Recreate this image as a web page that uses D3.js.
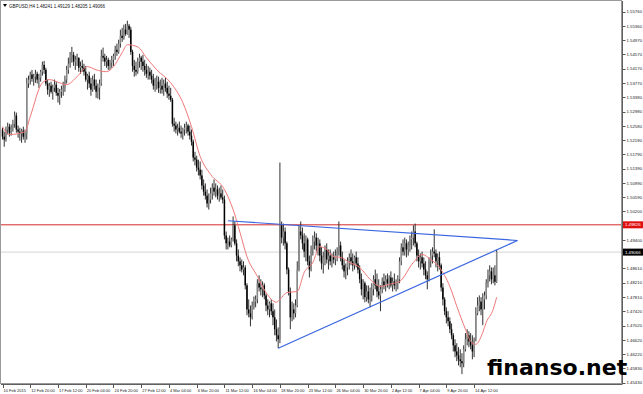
<!DOCTYPE html>
<html><head><meta charset="utf-8">
<script src="https://cdn.jsdelivr.net/npm/d3@7/dist/d3.min.js"></script>
<style>body{margin:0;background:#fff}svg{display:block}</style>
</head><body>
<svg id="c" width="643" height="394"></svg>
<script>
// ---- data (GBPUSD, H4) ----
const openP=[1.5248,1.5228,1.5220,1.5248,1.5256,1.5239,1.5253,1.5264,1.5287,1.5248,
1.5242,1.5237,1.5245,1.5228,1.5237,1.5376,1.5387,1.5401,1.5389,1.5395,
1.5403,1.5387,1.5392,1.5409,1.5428,1.5414,1.5376,1.5359,1.5370,1.5353,
1.5364,1.5373,1.5350,1.5342,1.5353,1.5359,1.5364,1.5387,1.5414,1.5431,
1.5448,1.5456,1.5437,1.5442,1.5448,1.5420,1.5425,1.5420,1.5409,1.5387,
1.5398,1.5376,1.5359,1.5387,1.5370,1.5353,1.5364,1.5376,1.5453,1.5448,
1.5437,1.5442,1.5425,1.5434,1.5442,1.5453,1.5470,1.5464,1.5487,1.5509,
1.5503,1.5526,1.5514,1.5537,1.5526,1.5464,1.5425,1.5414,1.5409,1.5437,
1.5448,1.5437,1.5425,1.5414,1.5403,1.5409,1.5398,1.5387,1.5370,1.5376,
1.5381,1.5364,1.5370,1.5359,1.5376,1.5364,1.5348,1.5342,1.5331,1.5264,
1.5259,1.5248,1.5253,1.5242,1.5237,1.5248,1.5253,1.5259,1.5242,1.5231,
1.5214,1.5170,1.5164,1.5142,1.5136,1.5120,1.5092,1.5075,1.5064,1.5042,
1.5053,1.5070,1.5086,1.5075,1.5081,1.5064,1.5070,1.5059,1.5053,1.4953,
1.4931,1.4936,1.4925,1.4942,1.4981,1.4931,1.4897,1.4881,1.4870,1.4858,
1.4864,1.4814,1.4747,1.4736,1.4725,1.4758,1.4769,1.4775,1.4820,1.4808,
1.4803,1.4814,1.4786,1.4758,1.4747,1.4764,1.4742,1.4725,1.4692,1.4675,
1.4664,1.4981,1.4947,1.4964,1.4931,1.4858,1.4797,1.4725,1.4747,1.4736,
1.4758,1.4858,1.4964,1.4953,1.4931,1.4908,1.4942,1.4881,1.4858,1.4914,
1.4936,1.4947,1.4925,1.4931,1.4897,1.4875,1.4892,1.4914,1.4886,1.4897,
1.4881,1.4892,1.4886,1.4897,1.4908,1.4925,1.4892,1.4870,1.4853,1.4864,
1.4881,1.4892,1.4881,1.4870,1.4892,1.4875,1.4858,1.4831,1.4803,1.4820,
1.4781,1.4797,1.4775,1.4786,1.4803,1.4831,1.4814,1.4797,1.4786,1.4803,
1.4825,1.4814,1.4831,1.4820,1.4836,1.4814,1.4825,1.4814,1.4820,1.4831,
1.4881,1.4920,1.4908,1.4931,1.4914,1.4925,1.4942,1.4947,1.4964,1.4931,
1.4897,1.4881,1.4892,1.4875,1.4858,1.4842,1.4831,1.4881,1.4897,1.4908,
1.4903,1.4881,1.4892,1.4870,1.4808,1.4775,1.4742,1.4725,1.4714,1.4692,
1.4675,1.4647,1.4630,1.4619,1.4608,1.4603,1.4597,1.4636,1.4664,1.4675,
1.4658,1.4647,1.4630,1.4664,1.4736,1.4758,1.4769,1.4747,1.4775,1.4786,
1.4820,1.4842,1.4853,1.4831,1.4842,1.4824];
const highP=[1.5253,1.5242,1.5256,1.5267,1.5264,1.5262,1.5275,1.5298,1.5295,1.5259,
1.5253,1.5250,1.5256,1.5248,1.5392,1.5398,1.5409,1.5414,1.5403,1.5414,
1.5409,1.5403,1.5414,1.5437,1.5439,1.5420,1.5387,1.5378,1.5381,1.5373,
1.5387,1.5381,1.5364,1.5361,1.5370,1.5381,1.5398,1.5425,1.5448,1.5464,
1.5478,1.5464,1.5453,1.5459,1.5448,1.5437,1.5442,1.5431,1.5425,1.5403,
1.5409,1.5392,1.5398,1.5403,1.5387,1.5376,1.5387,1.5470,1.5476,1.5459,
1.5453,1.5448,1.5442,1.5453,1.5459,1.5481,1.5487,1.5498,1.5526,1.5531,
1.5540,1.5542,1.5551,1.5542,1.5534,1.5470,1.5442,1.5437,1.5448,1.5459,
1.5453,1.5456,1.5442,1.5431,1.5425,1.5420,1.5414,1.5403,1.5392,1.5398,
1.5395,1.5387,1.5392,1.5387,1.5392,1.5381,1.5370,1.5364,1.5336,1.5281,
1.5270,1.5264,1.5270,1.5259,1.5253,1.5264,1.5270,1.5264,1.5259,1.5248,
1.5220,1.5186,1.5175,1.5164,1.5159,1.5136,1.5109,1.5098,1.5081,1.5070,
1.5086,1.5098,1.5109,1.5098,1.5092,1.5086,1.5092,1.5081,1.5064,1.4964,
1.4947,1.4953,1.4947,1.5006,1.4992,1.4942,1.4914,1.4892,1.4886,1.4881,
1.4870,1.4820,1.4775,1.4758,1.4769,1.4783,1.4786,1.4831,1.4842,1.4831,
1.4825,1.4820,1.4792,1.4775,1.4769,1.4775,1.4764,1.4747,1.4719,1.4697,
1.5156,1.4992,1.4986,1.4975,1.4936,1.4864,1.4808,1.4769,1.4764,1.4775,
1.4881,1.4981,1.4992,1.4975,1.4959,1.4953,1.4947,1.4897,1.4925,1.4953,
1.4964,1.4959,1.4947,1.4942,1.4920,1.4908,1.4925,1.4931,1.4914,1.4914,
1.4903,1.4908,1.4914,1.4920,1.4992,1.4936,1.4908,1.4886,1.4875,1.4892,
1.4903,1.4914,1.4903,1.4897,1.4908,1.4892,1.4870,1.4847,1.4831,1.4825,
1.4814,1.4814,1.4808,1.4820,1.4842,1.4858,1.4847,1.4831,1.4814,1.4836,
1.4847,1.4842,1.4847,1.4842,1.4853,1.4836,1.4847,1.4831,1.4842,1.4892,
1.4931,1.4942,1.4947,1.4942,1.4936,1.4953,1.4964,1.4981,1.4986,1.4936,
1.4914,1.4903,1.4908,1.4892,1.4881,1.4853,1.4892,1.4914,1.4920,1.4970,
1.4914,1.4903,1.4908,1.4875,1.4820,1.4781,1.4753,1.4742,1.4725,1.4708,
1.4681,1.4664,1.4653,1.4642,1.4636,1.4625,1.4647,1.4681,1.4692,1.4686,
1.4681,1.4675,1.4669,1.4753,1.4781,1.4786,1.4781,1.4792,1.4797,1.4831,
1.4858,1.4870,1.4864,1.4864,1.4870,1.4913];
const lowP=[1.5220,1.5200,1.5214,1.5234,1.5228,1.5231,1.5242,1.5253,1.5239,1.5225,
1.5217,1.5211,1.5220,1.5211,1.5220,1.5364,1.5373,1.5381,1.5370,1.5378,
1.5376,1.5364,1.5381,1.5398,1.5403,1.5370,1.5345,1.5339,1.5348,1.5331,
1.5353,1.5342,1.5323,1.5317,1.5336,1.5342,1.5353,1.5376,1.5403,1.5420,
1.5434,1.5425,1.5414,1.5425,1.5409,1.5403,1.5409,1.5398,1.5381,1.5359,
1.5364,1.5342,1.5353,1.5359,1.5336,1.5334,1.5331,1.5370,1.5437,1.5425,
1.5420,1.5414,1.5414,1.5420,1.5425,1.5442,1.5453,1.5459,1.5476,1.5492,
1.5498,1.5509,1.5512,1.5503,1.5456,1.5409,1.5395,1.5398,1.5403,1.5420,
1.5414,1.5409,1.5398,1.5392,1.5387,1.5387,1.5376,1.5359,1.5353,1.5359,
1.5350,1.5348,1.5348,1.5342,1.5353,1.5336,1.5331,1.5325,1.5256,1.5242,
1.5237,1.5231,1.5237,1.5225,1.5220,1.5231,1.5237,1.5231,1.5220,1.5203,
1.5159,1.5148,1.5131,1.5120,1.5109,1.5081,1.5064,1.5053,1.5031,1.5025,
1.5042,1.5053,1.5064,1.5059,1.5053,1.5047,1.5053,1.5042,1.4942,1.4914,
1.4914,1.4920,1.4920,1.4936,1.4925,1.4881,1.4867,1.4853,1.4850,1.4842,
1.4803,1.4731,1.4725,1.4700,1.4719,1.4747,1.4753,1.4764,1.4797,1.4786,
1.4781,1.4775,1.4742,1.4731,1.4725,1.4731,1.4703,1.4675,1.4658,1.4639,
1.4653,1.4931,1.4925,1.4914,1.4845,1.4786,1.4692,1.4714,1.4719,1.4725,
1.4753,1.4853,1.4942,1.4914,1.4892,1.4881,1.4870,1.4836,1.4853,1.4897,
1.4914,1.4908,1.4897,1.4881,1.4858,1.4847,1.4870,1.4875,1.4858,1.4870,
1.4864,1.4875,1.4870,1.4881,1.4897,1.4881,1.4858,1.4836,1.4831,1.4842,
1.4858,1.4870,1.4853,1.4858,1.4864,1.4847,1.4820,1.4786,1.4775,1.4767,
1.4769,1.4764,1.4753,1.4769,1.4786,1.4803,1.4781,1.4775,1.4742,1.4792,
1.4803,1.4797,1.4808,1.4803,1.4808,1.4797,1.4803,1.4797,1.4803,1.4820,
1.4870,1.4897,1.4897,1.4892,1.4897,1.4908,1.4914,1.4925,1.4920,1.4881,
1.4864,1.4858,1.4864,1.4842,1.4831,1.4803,1.4825,1.4864,1.4875,1.4892,
1.4864,1.4853,1.4858,1.4797,1.4758,1.4731,1.4708,1.4700,1.4681,1.4664,
1.4630,1.4614,1.4603,1.4591,1.4586,1.4567,1.4586,1.4630,1.4647,1.4642,
1.4636,1.4608,1.4614,1.4658,1.4731,1.4742,1.4731,1.4703,1.4747,1.4775,
1.4808,1.4825,1.4817,1.4820,1.4814,1.4821];
const closeP=[1.5228,1.5220,1.5248,1.5256,1.5239,1.5253,1.5264,1.5287,1.5248,1.5242,
1.5237,1.5245,1.5228,1.5237,1.5376,1.5387,1.5401,1.5389,1.5395,1.5403,
1.5387,1.5392,1.5409,1.5428,1.5414,1.5376,1.5359,1.5370,1.5353,1.5364,
1.5373,1.5350,1.5342,1.5353,1.5359,1.5364,1.5387,1.5414,1.5431,1.5448,
1.5456,1.5437,1.5442,1.5448,1.5420,1.5425,1.5420,1.5409,1.5387,1.5398,
1.5376,1.5359,1.5387,1.5370,1.5353,1.5364,1.5376,1.5453,1.5448,1.5437,
1.5442,1.5425,1.5434,1.5442,1.5453,1.5470,1.5464,1.5487,1.5509,1.5503,
1.5526,1.5514,1.5537,1.5526,1.5464,1.5425,1.5414,1.5409,1.5437,1.5448,
1.5437,1.5425,1.5414,1.5403,1.5409,1.5398,1.5387,1.5370,1.5376,1.5381,
1.5364,1.5370,1.5359,1.5376,1.5364,1.5348,1.5342,1.5331,1.5264,1.5259,
1.5248,1.5253,1.5242,1.5237,1.5248,1.5253,1.5259,1.5242,1.5231,1.5214,
1.5170,1.5164,1.5142,1.5136,1.5120,1.5092,1.5075,1.5064,1.5042,1.5053,
1.5070,1.5086,1.5075,1.5081,1.5064,1.5070,1.5059,1.5053,1.4953,1.4931,
1.4936,1.4925,1.4942,1.4981,1.4931,1.4897,1.4881,1.4870,1.4858,1.4864,
1.4814,1.4747,1.4736,1.4725,1.4758,1.4769,1.4775,1.4820,1.4808,1.4803,
1.4814,1.4786,1.4758,1.4747,1.4764,1.4742,1.4725,1.4692,1.4675,1.4664,
1.4981,1.4947,1.4964,1.4931,1.4858,1.4797,1.4725,1.4747,1.4736,1.4758,
1.4858,1.4964,1.4953,1.4931,1.4908,1.4942,1.4881,1.4858,1.4914,1.4936,
1.4947,1.4925,1.4931,1.4897,1.4875,1.4892,1.4914,1.4886,1.4897,1.4881,
1.4892,1.4886,1.4897,1.4908,1.4925,1.4892,1.4870,1.4853,1.4864,1.4881,
1.4892,1.4881,1.4870,1.4892,1.4875,1.4858,1.4831,1.4803,1.4820,1.4781,
1.4797,1.4775,1.4786,1.4803,1.4831,1.4814,1.4797,1.4786,1.4803,1.4825,
1.4814,1.4831,1.4820,1.4836,1.4814,1.4825,1.4814,1.4820,1.4831,1.4881,
1.4920,1.4908,1.4931,1.4914,1.4925,1.4942,1.4947,1.4964,1.4931,1.4897,
1.4881,1.4892,1.4875,1.4858,1.4842,1.4831,1.4881,1.4897,1.4908,1.4903,
1.4881,1.4892,1.4870,1.4808,1.4775,1.4742,1.4725,1.4714,1.4692,1.4675,
1.4647,1.4630,1.4619,1.4608,1.4603,1.4597,1.4636,1.4664,1.4675,1.4658,
1.4647,1.4630,1.4664,1.4736,1.4758,1.4769,1.4747,1.4775,1.4786,1.4820,
1.4842,1.4853,1.4831,1.4842,1.4824,1.4907];

// moving average (read at selected bars)
const maBar=[0,4,13,16,23,27,33,37,43,49,54,60,64,69,72,78,83,89,97,104,109,114,120,128,133,137,141,147,152,158,160,164,170,174,179,183,187,191,195,200,206,212,218,223,229,237,242,247,252,258,262,267,270,273,277,279,283,285];
const maVal=[1.5256,1.5234,1.5242,1.5284,1.5378,1.5387,1.5378,1.5373,1.5395,1.5423,1.5414,1.5409,1.5423,1.5462,1.5484,1.5478,1.5448,1.5414,1.5378,1.5323,1.5256,1.5173,1.5123,1.5081,1.5025,1.4961,1.4894,1.4839,1.4794,1.4767,1.4775,1.4794,1.4797,1.4850,1.4878,1.4922,1.4914,1.4894,1.4892,1.4878,1.4864,1.4831,1.4811,1.4817,1.4825,1.4878,1.4900,1.4886,1.4864,1.4811,1.4756,1.4692,1.4658,1.4650,1.4683,1.4711,1.4747,1.4781];

// trend lines (bar index, price)
const upperBars=[130,297], upperPrices=[1.4994,1.4939];
const lowerBars=[159,297], lowerPrices=[1.4639,1.4939];
const resistance=1.49826, bid=1.49066;

const priceTicks=[1.55760,1.55360,1.54970,1.54570,1.54170,1.53770,1.53380,1.52980,1.52580,1.52180,1.51790,1.51390,1.50990,1.50590,1.50200,1.49400,1.48610,1.48210,1.47810,1.47420,1.47020,1.46620,1.46220,1.45830,1.45430];
const dateTickBars=[0,16,32,48,64,80,96,112,128,144,160,176,192,208,224,240,256,272];
const dateTickLabels=["10 Feb 2015","12 Feb 20:00","17 Feb 12:00","20 Feb 04:00","24 Feb 20:00","27 Feb 12:00","4 Mar 04:00","6 Mar 20:00","11 Mar 12:00","16 Mar 04:00","18 Mar 20:00","23 Mar 12:00","26 Mar 04:00","30 Mar 20:00","2 Apr 12:00","7 Apr 04:00","9 Apr 20:00","14 Apr 12:00"];
const titleText="GBPUSD,H4  1.48241 1.49129 1.48205 1.49066";

// ---- drawing ----
const svg=d3.select("#c");
const L=1, T=1, R=622, B=384;
const x=d3.scaleLinear().domain([0,357.3]).range([2.5,622]);
const y=d3.scaleLinear().domain([1.5576,1.4543]).range([11.7,382.7]);
const font='"Liberation Sans",Arial,sans-serif';

svg.append("rect").attr("x",0).attr("y",0).attr("width",643).attr("height",394).attr("fill","#fff");
const plot=svg.append("g");
plot.append("defs").append("clipPath").attr("id","clip").append("rect").attr("x",L).attr("y",T).attr("width",R-L).attr("height",B-T);
const g=plot.append("g").attr("clip-path","url(#clip)");

// bid line and resistance line
g.append("line").attr("x1",L).attr("x2",R).attr("y1",y(bid)).attr("y2",y(bid)).attr("stroke","#d4d4d4").attr("stroke-width",1);
g.append("line").attr("x1",L).attr("x2",R).attr("y1",y(resistance)).attr("y2",y(resistance)).attr("stroke","#d42a2a").attr("stroke-width",1);

// candles
const idx=d3.range(closeP.length);
g.selectAll("line.wick").data(idx).join("line").attr("class","wick")
 .attr("x1",i=>x(i)).attr("x2",i=>x(i)).attr("y1",i=>y(highP[i])).attr("y2",i=>y(lowP[i]))
 .attr("stroke","#1a1a1a").attr("stroke-width",0.9);
g.selectAll("rect.body").data(idx).join("rect").attr("class","body")
 .attr("x",i=>x(i)-0.75).attr("width",1.5)
 .attr("y",i=>y(Math.max(openP[i],closeP[i])))
 .attr("height",i=>Math.max(0.8,Math.abs(y(openP[i])-y(closeP[i]))))
 .attr("fill",i=>closeP[i]>=openP[i]?"#8a8a8a":"#000");

// moving average
g.append("path").datum(maBar.map((b,k)=>[b,maVal[k]]))
 .attr("d",d3.line().x(d=>x(d[0])).y(d=>y(d[1])).curve(d3.curveMonotoneX))
 .attr("fill","none").attr("stroke","#f07878").attr("stroke-width",1);

// trend lines
[[upperBars,upperPrices],[lowerBars,lowerPrices]].forEach(([bs,ps])=>{
 g.append("line").attr("x1",x(bs[0])).attr("y1",y(ps[0])).attr("x2",x(bs[1])).attr("y2",y(ps[1]))
  .attr("stroke","#3a66e0").attr("stroke-width",1.2);
});

// frame
plot.append("rect").attr("x",L-0.5).attr("y",T-0.5).attr("width",R-L).attr("height",B-T)
 .attr("fill","none").attr("stroke","#9a9a9a").attr("stroke-width",1);
plot.append("line").attr("x1",R+0.5).attr("x2",R+0.5).attr("y1",T).attr("y2",B).attr("stroke","#606060");
plot.append("line").attr("x1",L).attr("x2",R+0.5).attr("y1",B+0.5).attr("y2",B+0.5).attr("stroke","#606060");

// price axis
const pa=svg.append("g");
pa.selectAll("line").data(priceTicks).join("line")
 .attr("x1",R+1).attr("x2",R+3.5).attr("y1",d=>Math.round(y(d))+0.5).attr("y2",d=>Math.round(y(d))+0.5).attr("stroke","#555");
pa.selectAll("text").data(priceTicks).join("text")
 .attr("x",R+4.5).attr("y",d=>y(d)+1.6).text(d=>d.toFixed(5))
 .attr("font-family",font).attr("font-size",4.3).attr("fill","#222");
// level labels
[[resistance,"#e01010","#fff"],[bid,"#000","#fff"]].forEach(([v,bg,fg])=>{
 pa.append("rect").attr("x",R+1).attr("y",y(v)-3.5).attr("width",20).attr("height",7).attr("fill",bg);
 pa.append("text").attr("x",R+3).attr("y",y(v)+1.6).text(v.toFixed(5)).attr("font-family",font).attr("font-size",4.3).attr("fill",fg);
});

// date axis
const da=svg.append("g");
da.selectAll("line").data(dateTickBars).join("line")
 .attr("x1",b=>Math.round(x(b))+0.5).attr("x2",b=>Math.round(x(b))+0.5).attr("y1",B).attr("y2",B+4).attr("stroke","#555");
da.selectAll("text").data(dateTickBars).join("text")
 .attr("x",b=>x(b)+1).attr("y",391.5).text((b,k)=>dateTickLabels[k])
 .attr("font-family",font).attr("font-size",4.0).attr("fill","#222");

// title
svg.append("path").attr("d","M3,4 L7,4 L5,7 Z").attr("fill","#000");
svg.append("text").attr("x",9).attr("y",7.6).text(titleText).attr("font-family",font).attr("font-size",4.5).attr("fill","#111");

// watermark
svg.append("text").attr("x",487).attr("y",375).text("finanso.net")
 .attr("font-family",'"DejaVu Sans",sans-serif').attr("font-weight","bold").attr("font-size",22).attr("fill","#000");
</script>
</body></html>
